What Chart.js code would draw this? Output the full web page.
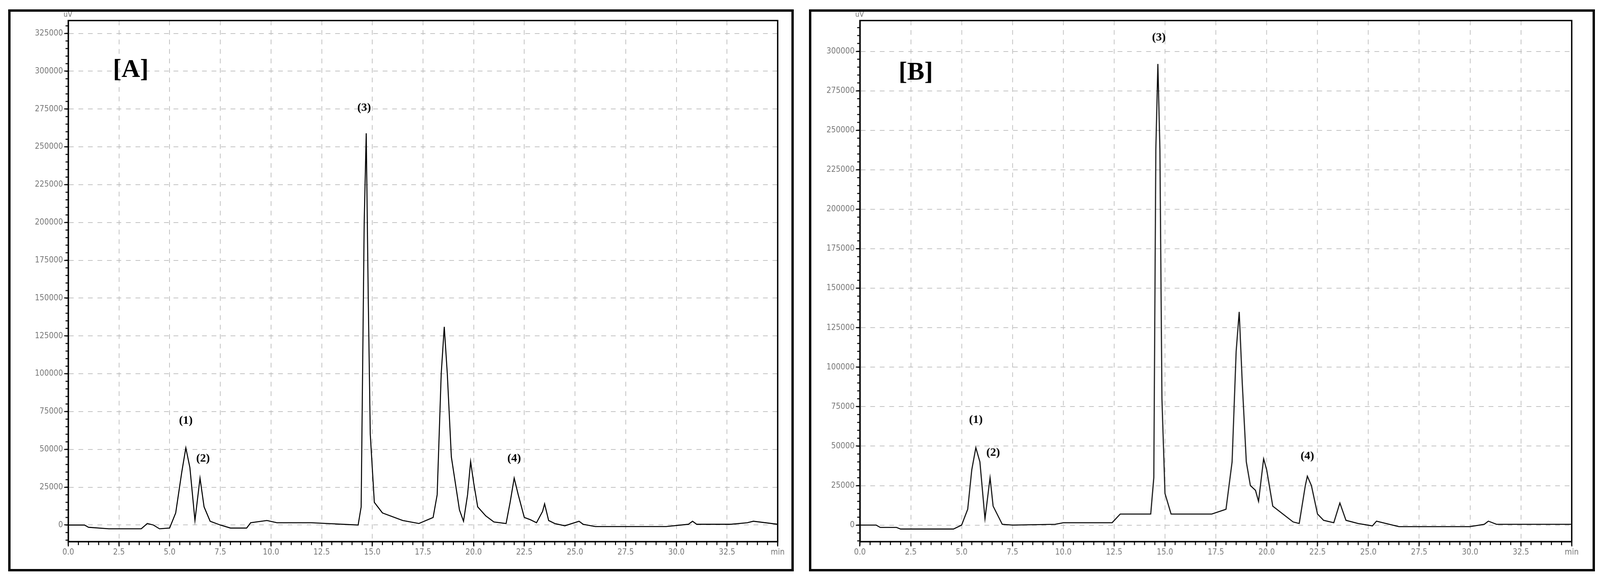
<!DOCTYPE html>
<html>
<head>
<meta charset="utf-8">
<script src="https://cdn.jsdelivr.net/npm/chart.js@4/dist/chart.umd.min.js"></script>
<style>
  html, body { margin: 0; padding: 0; background: #fff; width: 100vw; height: 100vh; overflow: hidden; }
  .panel { position: absolute; top: 1.62%; height: 97.2%; width: 49.11%; box-sizing: border-box; border: 0.15vw solid #000; }
  .panel div { position: absolute; left: 0; top: 0; right: 0; bottom: 0; }
</style>
</head>
<body>
<div class="panel" style="left:0.51%"><div><canvas id="chartA"></canvas></div></div>
<div class="panel" style="left:50.57%"><div><canvas id="chartB"></canvas></div></div>
<script>
// retention time (min) and detector response (uV)
const timeA = [0, 0.8, 1.0, 2.0, 3.6, 3.9, 4.2, 4.5, 5.0, 5.3, 5.6, 5.8, 6.0, 6.25, 6.5, 6.7, 7.0, 7.5, 8.0, 8.8, 9.0, 9.8, 10.3, 12.0, 14.3, 14.45, 14.6, 14.7, 14.8, 14.9, 15.1, 15.5, 16.5, 17.3, 18.0, 18.2, 18.4, 18.55, 18.7, 18.9, 19.3, 19.5, 19.7, 19.85, 20.0, 20.2, 20.6, 21.0, 21.6, 21.8, 22.0, 22.2, 22.5, 22.8, 23.1, 23.4, 23.5, 23.7, 24.0, 24.5, 25.2, 25.4, 26.0, 29.5, 30.6, 30.8, 31.0, 32.7, 33.5, 33.8, 35.0];
const signalA = [0, 0, -1500, -2500, -2500, 1000, 0, -2500, -2000, 8000, 35000, 51000, 38000, 3000, 31000, 12000, 2500, 0, -2000, -2000, 1500, 3000, 1500, 1500, 0, 12000, 200000, 259000, 150000, 60000, 15000, 8000, 3000, 1000, 5000, 20000, 100000, 131000, 100000, 45000, 10000, 2500, 20000, 42000, 28000, 12000, 6000, 2000, 1000, 15000, 31000, 20000, 5000, 3500, 1500, 9000, 14000, 3000, 1000, -500, 2500, 500, -1000, -1000, 500, 2500, 500, 500, 1500, 2500, 500];
const timeB = [0, 0.8, 1.0, 1.8, 2.0, 4.6, 5.0, 5.3, 5.5, 5.7, 5.9, 6.15, 6.4, 6.55, 7.0, 7.5, 9.6, 10.0, 12.4, 12.8, 14.3, 14.45, 14.55, 14.65, 14.75, 14.85, 15.0, 15.3, 17.3, 18.0, 18.3, 18.5, 18.65, 18.8, 19.0, 19.2, 19.45, 19.6, 19.85, 20.0, 20.3, 20.8, 21.3, 21.6, 21.9, 22.0, 22.2, 22.5, 22.8, 23.3, 23.6, 23.9, 24.5, 25.2, 25.4, 26.5, 30.0, 30.7, 30.9, 31.3, 35.0];
const signalB = [0, 0, -1500, -1500, -2500, -2500, 0, 10000, 35000, 49000, 40000, 4000, 30000, 12000, 500, 0, 500, 1500, 1500, 7000, 7000, 30000, 238000, 292000, 238000, 80000, 20000, 7000, 7000, 10000, 40000, 110000, 135000, 90000, 40000, 25000, 22000, 15000, 42000, 35000, 12000, 7000, 2000, 1000, 25000, 31000, 25000, 7000, 3000, 1500, 14000, 3000, 1000, -500, 2500, -1000, -1000, 500, 2500, 500, 500];
const peakTagsA = [[5.8, 65000, "(1)"], [6.65, 40000, "(2)"], [14.6, 272000, "(3)"], [22.0, 40000, "(4)"]];
const peakTagsB = [[5.7, 63000, "(1)"], [6.55, 42000, "(2)"], [14.7, 305000, "(3)"], [22.0, 40000, "(4)"]];
const xTicks = [0, 2.5, 5, 7.5, 10, 12.5, 15, 17.5, 20, 22.5, 25, 27.5, 30, 32.5, 35];

// everything below was measured on a 4712 px wide picture; scale to the real window
const k = window.innerWidth / 4712;
const tickFont = { family: "DejaVu Sans Condensed, DejaVu Sans", size: Math.round(24 * k) };

const decor = {
  id: "decor",
  afterDraw(chart, args, opts) {
    const { ctx, chartArea: a, scales } = chart;
    ctx.save();
    ctx.strokeStyle = "#000";
    ctx.lineWidth = 4 * k;
    ctx.strokeRect(a.left, a.top, a.right - a.left, a.bottom - a.top);
    // minor ticks on both axes
    ctx.lineWidth = 3 * k;
    for (let v = -10000; v <= scales.y.max; v += 5000) {
      const py = scales.y.getPixelForValue(v);
      if (py < a.top || py > a.bottom) continue;
      ctx.beginPath(); ctx.moveTo(a.left - 8 * k, py); ctx.lineTo(a.left, py); ctx.stroke();
    }
    for (let t = 0; t <= scales.x.max; t += 0.5) {
      const px = scales.x.getPixelForValue(t);
      ctx.beginPath(); ctx.moveTo(px, a.bottom); ctx.lineTo(px, a.bottom + 10 * k); ctx.stroke();
    }
    ctx.fillStyle = "#000";
    ctx.textAlign = "center";
    ctx.textBaseline = "bottom";
    ctx.font = "bold " + Math.round(34 * k) + "px 'Liberation Serif', 'DejaVu Serif', serif";
    opts.tags.forEach(([t, v, s]) => {
      ctx.fillText(s, scales.x.getPixelForValue(t), scales.y.getPixelForValue(v));
    });
    ctx.font = "bold " + Math.round(76 * k) + "px 'Liberation Serif', 'DejaVu Serif', serif";
    ctx.textAlign = "left";
    ctx.fillText(opts.letter, scales.x.getPixelForValue(opts.letterAt[0]), scales.y.getPixelForValue(opts.letterAt[1]));
    ctx.fillStyle = "#777";
    ctx.font = Math.round(22 * k) + "px 'DejaVu Sans Condensed', sans-serif";
    ctx.fillText("uV", a.left - 14 * k, a.top - 6 * k);
    ctx.restore();
  }
};

function makeChart(id, times, signal, yMin, yMax, axisWidth, padRight, tags, letter, letterAt) {
  return new Chart(document.getElementById(id), {
    type: "line",
    data: {
      datasets: [{
        data: times.map((t, i) => ({ x: t, y: signal[i] })),
        borderColor: "#000",
        borderWidth: 3 * k,
        pointRadius: 0,
        tension: 0
      }]
    },
    options: {
      responsive: true,
      maintainAspectRatio: false,
      animation: false,
      layout: { padding: { top: 26 * k, right: padRight * k, left: 0, bottom: 0 } },
      plugins: { legend: { display: false }, tooltip: { enabled: false }, decor: { tags, letter, letterAt } },
      scales: {
        x: {
          type: "linear", min: 0, max: 35,
          afterBuildTicks: s => { s.ticks = xTicks.map(v => ({ value: v })); },
          afterFit: s => { s.height = 80 * k; },
          ticks: { color: "#777", font: tickFont, callback: v => v === 35 ? "min" : v.toFixed(1) },
          grid: { color: "#bbb", lineWidth: 2 * k, tickLength: 14 * k, tickColor: "#000", tickWidth: 3 * k },
          border: { dash: [14 * k, 14 * k], color: "#000", width: 4 * k }
        },
        y: {
          min: yMin, max: yMax,
          afterBuildTicks: s => {
            const t = [];
            for (let v = 0; v <= yMax; v += 25000) t.push({ value: v });
            s.ticks = t;
          },
          afterFit: s => { s.width = axisWidth * k; },
          ticks: { color: "#777", font: tickFont, callback: v => String(v) },
          grid: { color: "#bbb", lineWidth: 2 * k, tickLength: 12 * k, tickColor: "#000", tickWidth: 3 * k },
          border: { dash: [14 * k, 14 * k], color: "#000", width: 4 * k }
        }
      }
    },
    plugins: [decor]
  });
}

makeChart("chartA", timeA, signalA, -11000, 333500, 170, 41, peakTagsA, "[A]", [2.2, 292000]);
makeChart("chartB", timeB, signalB, -10500, 319500, 143, 62, peakTagsB, "[B]", [1.9, 278000]);
</script>
</body>
</html>
